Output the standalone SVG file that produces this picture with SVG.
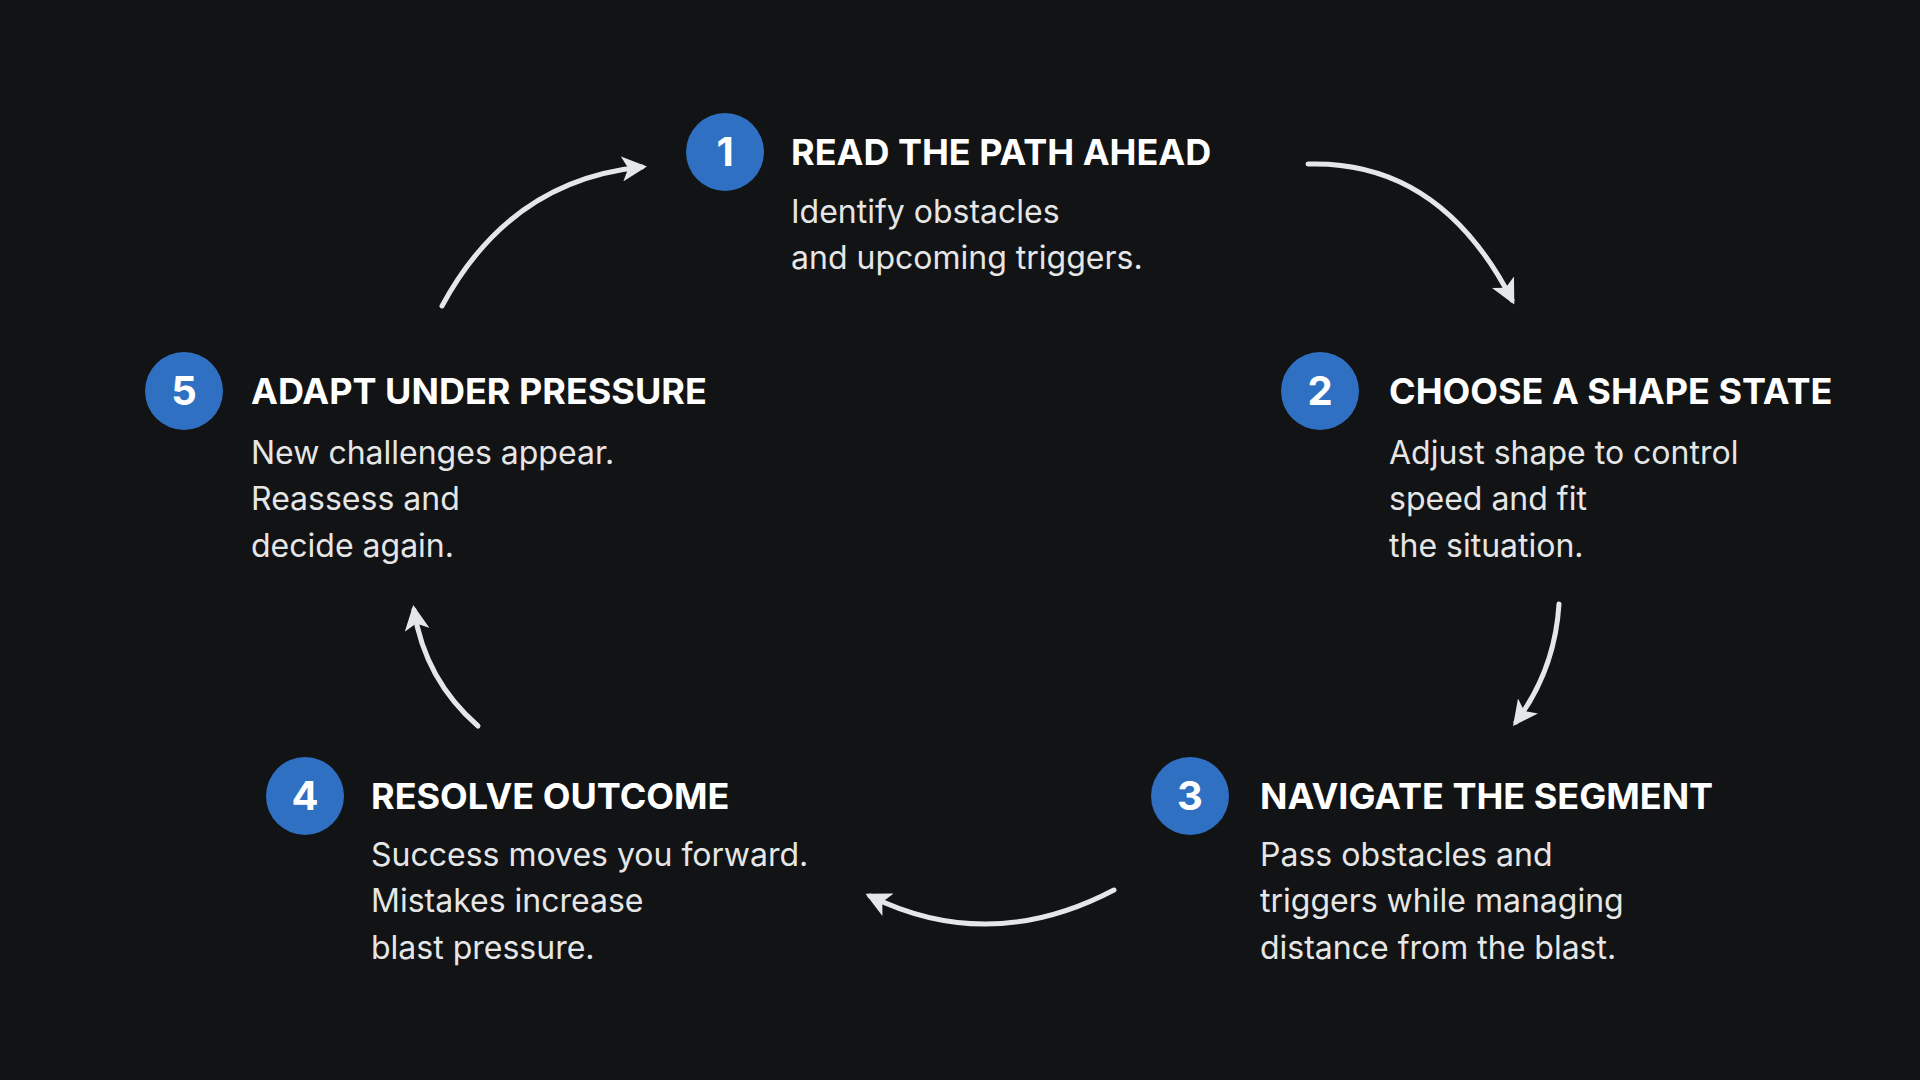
<svg xmlns="http://www.w3.org/2000/svg" width="1920" height="1080" viewBox="0 0 1920 1080">
<defs>
<marker id="ah" viewBox="0 0 10 10" refX="8" refY="5" markerWidth="5" markerHeight="5" orient="auto" markerUnits="strokeWidth"><path d="M0,0 L10,5 L0,10 L2.5,5 Z" fill="#e4e6ea"/></marker>
<style>
.c{fill:#2f70c2}
.n{font-family:"Inter","Liberation Sans",sans-serif;font-weight:700;font-size:40px;fill:#fff;text-anchor:middle}
.t{font-family:"Inter","Liberation Sans",sans-serif;font-weight:700;font-size:36px;fill:#fff}
.b{font-family:"Inter","Liberation Sans",sans-serif;font-size:32px;fill:#e6e6e6}
.a{fill:none;stroke:#e4e6ea;stroke-width:5;stroke-linecap:round;marker-end:url(#ah)}
</style>
</defs>
<rect width="1920" height="1080" fill="#111315"/>
<g id="connectors">
<path class="a" d="M1308,164 Q1440,160 1512,300"/>
<path class="a" d="M1559,604 Q1555,670 1516,722"/>
<path class="a" d="M1114,890 Q990,955 870,896"/>
<path class="a" d="M478,726 Q425,680 414,610"/>
<path class="a" d="M442,306 Q510,180 642,167"/>
</g>
<g id="node1"><circle class="c" cx="725" cy="152" r="39"/><text class="n" x="725" y="166">1</text>
<text class="t" x="791" y="165">READ THE PATH AHEAD</text>
<text class="b" x="791" y="223">Identify obstacles</text><text class="b" x="791" y="269">and upcoming triggers.</text></g>
<g id="node2"><circle class="c" cx="1320" cy="391" r="39"/><text class="n" x="1320" y="405">2</text>
<text class="t" x="1389" y="404">CHOOSE A SHAPE STATE</text>
<text class="b" x="1389" y="464">Adjust shape to control</text><text class="b" x="1389" y="510">speed and fit</text><text class="b" x="1389" y="557">the situation.</text></g>
<g id="node3"><circle class="c" cx="1190" cy="796" r="39"/><text class="n" x="1190" y="810">3</text>
<text class="t" x="1260" y="809">NAVIGATE THE SEGMENT</text>
<text class="b" x="1260" y="866">Pass obstacles and</text><text class="b" x="1260" y="912">triggers while managing</text><text class="b" x="1260" y="959">distance from the blast.</text></g>
<g id="node4"><circle class="c" cx="305" cy="796" r="39"/><text class="n" x="305" y="810">4</text>
<text class="t" x="371" y="809">RESOLVE OUTCOME</text>
<text class="b" x="371" y="866">Success moves you forward.</text><text class="b" x="371" y="912">Mistakes increase</text><text class="b" x="371" y="959">blast pressure.</text></g>
<g id="node5"><circle class="c" cx="184" cy="391" r="39"/><text class="n" x="184" y="405">5</text>
<text class="t" x="251" y="404">ADAPT UNDER PRESSURE</text>
<text class="b" x="251" y="464">New challenges appear.</text><text class="b" x="251" y="510">Reassess and</text><text class="b" x="251" y="557">decide again.</text></g>
</svg>
